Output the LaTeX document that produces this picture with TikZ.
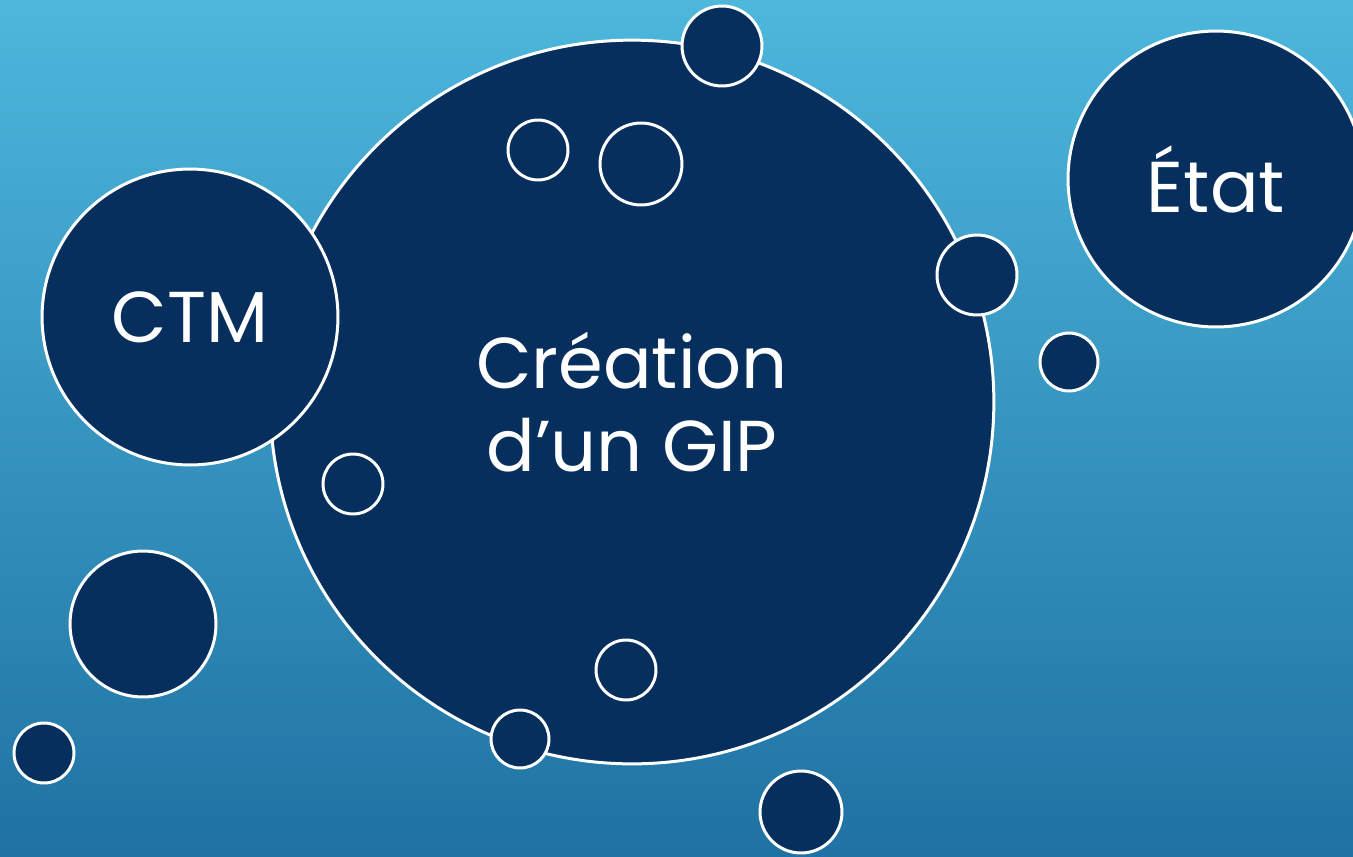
\documentclass[tikz,border=0pt]{standalone}
\usepackage{fontspec}
\setmainfont{Poppins}
\definecolor{navy}{HTML}{062F5E}
\definecolor{skytop}{HTML}{4DB7DC}
\definecolor{skybot}{HTML}{1F72A3}

\begin{document}
\begin{tikzpicture}[x=0.02cm,y=-0.02cm,
  bubble/.style={circle,draw=white,fill=navy,line width=1.7pt,inner sep=0pt,
    minimum size=#1*0.04cm,text=white,align=center},
  bubble/.default=30]
% Background ..
\useasboundingbox (0,0) rectangle (1353,856);
\clip (0,0) rectangle (1353,856);
\shade[top color=skytop,bottom color=skybot] (0,0) rectangle (1353,856);

% Main circles
\node[bubble=362,font=\fontsize{41}{47}\selectfont] (gip) at (632,402) {Création\\d’un GIP};
\node[bubble=148,font=\fontsize{41}{47}\selectfont] (ctm) at (190,317) {CTM};
\node[bubble=148,font=\fontsize{41}{47}\selectfont] (etat) at (1216,179) {État};

% Small circles
\node[bubble=40] (topb) at (722,46) {};
\node[bubble] (sa) at (538,150) {};
\node[bubble=41] (sb) at (641,164) {};
\node[bubble=40] (sc) at (977,275) {};
\node[bubble=29] (sd) at (1069,362) {};
\node[bubble] (se) at (353,484) {};
\node[bubble=73] (sf) at (143,624) {};
\node[bubble] (sg) at (44,753) {};
\node[bubble] (sh) at (626,670) {};
\node[bubble=29] (si) at (520,739) {};
\node[bubble=41] (sj) at (801,812) {};
\end{tikzpicture}
\end{document}
